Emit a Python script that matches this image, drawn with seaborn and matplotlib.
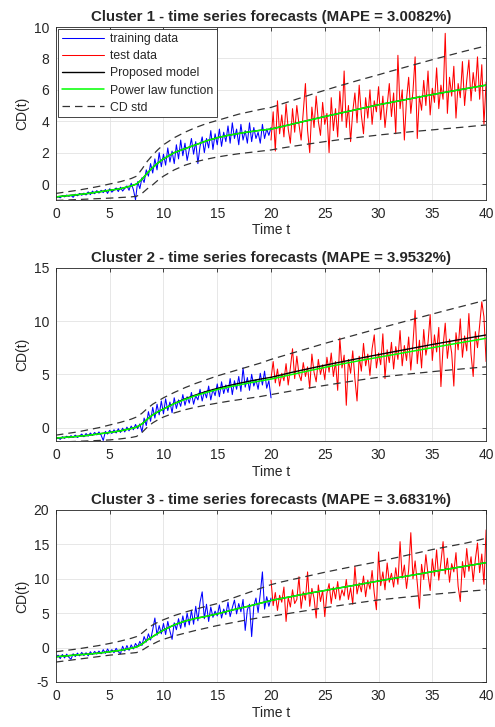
import numpy as np
import matplotlib
matplotlib.use('Agg')
import matplotlib.pyplot as plt
import seaborn as sns

# sample points for the smooth curves (model, power law, std band)
t_curve = [0, 1, 2, 3, 4, 5, 6, 7, 7.5, 8, 8.5, 9, 9.5, 10,
           11, 12, 13, 14, 15, 16, 17, 18, 19, 20,
           21, 22, 23, 24, 25, 26, 27, 28, 29, 30,
           31, 32, 33, 34, 35, 36, 37, 38, 39, 40]

# ---------- Cluster 1 ----------
c1_train = [-0.85, -0.8, -0.88, -0.75, -0.82, -0.7, -0.78, -0.72, -0.85, -0.65,
            -0.75, -0.6, -0.72, -0.58, -0.7, -0.5, -0.68, -0.45, -0.62, -0.42,
            -0.58, -0.4, -0.55, -0.35, -0.6, -0.3, -0.52, -0.38, -0.25, -0.48,
            -0.2, -0.45, -0.28, -0.12, -0.4, 0.05, -0.35, -1.0, 0.15, -0.3,
            0.4, 0.1, 0.9, 0.5, 1.3, 0.7, 1.6, 0.9, 2.0, 1.1,
            1.9, 1.2, 2.3, 1.4, 2.1, 1.3, 2.5, 1.6, 2.8, 1.8,
            2.6, 1.5, 2.2, 2.9, 1.9, 2.7, 1.3, 2.4, 3.0, 2.0,
            2.9, 2.3, 3.4, 2.2, 3.2, 2.5, 3.5, 2.4, 3.3, 2.7,
            3.7, 2.6, 3.9, 2.9, 3.5, 2.5, 3.8, 2.8, 3.4, 2.6,
            3.9, 2.7, 3.6, 2.9, 3.3, 2.6, 3.8, 2.9, 3.5, 3.1,
            3.6]
c1_test = [2.8, 4.6, 2.1, 5.3, 3.2, 4.4, 3.0, 5.1, 3.5, 2.6,
           4.8, 3.3, 5.0, 3.8, 2.8, 4.6, 6.4, 3.4, 2.0, 4.9,
           3.6, 5.6, 4.0, 3.1, 5.2, 3.8, 4.5, 2.0, 5.5, 3.4,
           4.8, 3.0, 5.9, 4.0, 7.2, 3.6, 5.0, 2.7, 4.6, 5.8,
           3.9, 6.3, 4.4, 3.2, 5.5, 4.2, 6.0, 3.8, 5.3, 4.6,
           6.2, 4.1, 5.6, 3.6, 5.0, 6.4, 4.3, 5.8, 3.2, 8.2,
           4.8, 6.0, 2.8, 5.4, 6.8, 4.5, 5.9, 8.1, 2.9, 5.6,
           4.7, 6.6, 5.0, 7.2, 4.4, 6.1, 5.2, 7.4, 4.8, 6.3,
           5.4, 9.6, 4.5, 6.8, 5.6, 7.5, 4.2, 6.4, 5.5, 7.8,
           5.0, 6.6, 7.9, 5.3, 7.1, 5.9, 8.1, 5.4, 7.6, 3.8,
           6.5]
c1_power = [-0.82, -0.75, -0.68, -0.6, -0.5, -0.4, -0.3, -0.12,
            0.0, 0.3, 0.7, 1.05, 1.35, 1.6,
            2.0, 2.25, 2.5, 2.75, 2.95, 3.1, 3.22, 3.33, 3.42, 3.5,
            3.66, 3.82, 3.98, 4.14, 4.3, 4.45, 4.6, 4.75, 4.9, 5.05,
            5.18, 5.31, 5.44, 5.57, 5.7, 5.82, 5.94, 6.06, 6.18, 6.3]
c1_model = c1_power
c1_upper = [-0.6, -0.5, -0.4, -0.28, -0.15, 0.0, 0.15, 0.35,
            0.5, 0.95, 1.45, 1.85, 2.2, 2.5,
            2.95, 3.3, 3.6, 3.85, 4.05, 4.25, 4.45, 4.6, 4.75, 4.88,
            5.1, 5.32, 5.54, 5.76, 5.97, 6.18, 6.38, 6.58, 6.77, 6.96,
            7.16, 7.35, 7.54, 7.73, 7.92, 8.1, 8.28, 8.46, 8.63, 8.8]
c1_lower = [-1.05, -1.02, -0.99, -0.96, -0.93, -0.9, -0.86, -0.82,
            -0.78, -0.6, -0.3, -0.05, 0.25, 0.5,
            0.9, 1.2, 1.42, 1.58, 1.72, 1.83, 1.93, 2.01, 2.09, 2.17,
            2.29, 2.4, 2.5, 2.6, 2.7, 2.79, 2.88, 2.96, 3.04, 3.12,
            3.19, 3.26, 3.33, 3.39, 3.45, 3.51, 3.57, 3.63, 3.7, 3.76]

# ---------- Cluster 2 ----------
c2_train = [-1.0, -0.95, -1.1, -0.85, -1.0, -0.8, -0.95, -0.75, -0.9, -0.7,
            -0.92, -0.78, -0.6, -0.85, -0.55, -0.8, -0.5, -0.72, -0.45, -0.68,
            -0.4, -0.7, -1.2, -0.35, -0.6, -0.25, -0.55, -0.2, -0.5, -0.1,
            -0.45, -0.05, -0.4, 0.05, -0.3, 0.15, -0.2, 0.3, -0.1, 0.35,
            -0.4, 0.9, 0.2, 1.5, 0.6, 1.9, 0.9, 2.2, 1.2, 2.5,
            1.3, 2.7, 1.6, 2.4, 1.4, 2.8, 1.8, 2.6, 2.0, 3.1,
            2.1, 2.9, 2.3, 3.3, 2.2, 3.0, 2.6, 3.6, 2.5, 3.4,
            2.8, 3.9, 2.6, 3.6, 3.0, 4.1, 2.9, 4.3, 3.2, 4.0,
            3.3, 4.6, 3.1, 4.4, 3.6, 4.8, 3.4, 5.6, 3.8, 4.7,
            3.5, 5.0, 3.9, 4.5, 3.6, 5.1, 4.0, 5.3, 3.7, 4.4,
            2.8]
c2_test = [4.6, 6.2, 4.2, 5.5, 3.9, 5.1, 4.4, 6.0, 4.0, 5.6,
           7.4, 4.6, 6.7, 5.0, 4.4, 6.1, 4.8, 5.7, 3.7, 6.9,
           5.2, 4.3, 6.4, 5.0, 5.9, 4.5, 6.6, 5.2, 7.0, 4.8,
           6.2, 3.5, 8.4, 5.6, 6.8, 2.1, 6.4, 5.1, 7.2, 4.6,
           2.5, 6.7, 5.3, 7.9, 5.8, 6.9, 4.9, 7.4, 8.7, 5.6,
           7.0, 5.9, 8.8, 4.6, 7.3, 6.1, 8.0, 5.5, 7.6, 6.4,
           9.1, 5.8, 7.7, 6.3, 8.5, 5.4, 7.9, 11.0, 6.0, 8.2,
           5.6, 9.2, 6.8, 8.0, 10.6, 6.3, 8.7, 7.1, 9.4, 3.85,
           7.6, 9.8, 6.5, 8.3, 7.0, 3.9, 8.9, 7.3, 10.2, 6.6,
           8.6, 7.2, 10.7, 6.9, 4.8, 9.0, 7.5, 9.6, 11.8, 10.4,
           6.2]
c2_power = [-0.97, -0.9, -0.82, -0.72, -0.58, -0.45, -0.3, -0.08,
            0.05, 0.35, 0.8, 1.2, 1.5, 1.75,
            2.25, 2.65, 3.0, 3.3, 3.57, 3.8, 4.0, 4.2, 4.38, 4.55,
            4.78, 5.0, 5.22, 5.44, 5.65, 5.85, 6.05, 6.24, 6.42, 6.6,
            6.78, 6.96, 7.14, 7.32, 7.5, 7.68, 7.86, 8.03, 8.2, 8.38]
c2_model = [-0.97, -0.9, -0.82, -0.72, -0.58, -0.45, -0.3, -0.08,
            0.05, 0.35, 0.8, 1.2, 1.5, 1.75,
            2.27, 2.7, 3.07, 3.4, 3.68, 3.93, 4.15, 4.36, 4.55, 4.72,
            4.96, 5.2, 5.42, 5.64, 5.85, 6.06, 6.26, 6.46, 6.66, 6.85,
            7.04, 7.23, 7.42, 7.61, 7.8, 7.98, 8.16, 8.34, 8.52, 8.69]
c2_upper = [-0.7, -0.55, -0.4, -0.2, 0.0, 0.25, 0.5, 0.8,
            1.0, 1.35, 1.8, 2.2, 2.5, 2.8,
            3.3, 3.75, 4.15, 4.5, 4.85, 5.15, 5.45, 5.75, 6.05, 6.4,
            6.7, 7.0, 7.3, 7.6, 7.9, 8.18, 8.46, 8.74, 9.02, 9.3,
            9.57, 9.84, 10.11, 10.38, 10.65, 10.92, 11.18, 11.44, 11.7, 11.97]
c2_lower = [-1.35, -1.32, -1.28, -1.24, -1.2, -1.15, -1.05, -0.92,
            -0.82, -0.45, 0.05, 0.45, 0.75, 1.0,
            1.38, 1.68, 1.92, 2.12, 2.3, 2.47, 2.62, 2.77, 2.92, 3.1,
            3.28, 3.46, 3.63, 3.8, 3.96, 4.12, 4.28, 4.43, 4.58, 4.72,
            4.83, 4.94, 5.05, 5.15, 5.25, 5.35, 5.44, 5.53, 5.62, 5.7]

# ---------- Cluster 3 ----------
c3_train = [-1.4, -1.1, -1.6, -1.0, -1.5, -0.95, -1.4, -1.7, -0.9, -1.3,
            -0.8, -1.2, -0.7, -1.15, -0.75, -1.2, -0.6, -1.0, -0.55, -0.95,
            -0.5, -0.9, -0.3, -0.85, -0.2, -0.7, -0.3, -0.75, -0.1, -0.6,
            -0.9, 0.2, -0.5, 0.3, -0.4, 0.4, -0.2, 0.6, 0.1, 0.9,
            0.3, 1.6, 0.8, 2.0, 1.1, 2.6, 4.3, 1.8, 3.2, 2.0,
            3.5, 1.9, 3.8, 2.4, 1.2, 3.6, 2.6, 4.2, 2.8, 4.6,
            3.0, 5.0, 3.3, 5.4, 3.4, 6.0, 3.9, 6.6, 8.1, 4.2,
            6.3, 3.8, 5.9, 4.4, 5.3, 4.6, 6.2, 4.3, 5.6, 4.8,
            6.6, 4.5, 5.8, 6.9, 4.9, 6.4, 5.2, 7.0, 2.5, 5.5,
            6.3, 1.6, 6.0, 7.2, 5.1, 7.8, 11.0, 5.6, 7.4, 6.0,
            7.2]
c3_test = [9.8, 6.1, 8.0, 5.4, 7.6, 6.6, 8.8, 3.8, 7.3, 5.9,
           8.4, 6.4, 7.0, 10.3, 5.7, 8.1, 6.9, 11.0, 6.0, 8.6,
           7.2, 4.3, 9.1, 6.7, 8.3, 4.5, 7.9, 9.3, 6.4, 8.8,
           7.1, 9.6, 6.9, 8.4, 7.5, 9.9, 7.0, 8.7, 6.3, 11.8,
           7.8, 9.4, 8.1, 10.4, 7.4, 9.8, 8.5, 11.2, 7.9, 5.5,
           13.9, 9.0, 11.0, 8.4, 12.3, 9.5, 10.8, 8.8, 11.6, 9.2,
           15.4, 10.1, 12.0, 8.6, 11.3, 16.7, 10.0, 12.6, 9.4, 5.7,
           12.1, 9.9, 13.5, 10.6, 8.3, 12.9, 10.4, 14.2, 9.8, 12.4,
           15.4, 10.7, 13.0, 9.5, 12.2, 11.0, 13.8, 8.9, 6.7, 12.5,
           10.2, 14.4, 11.1, 13.2, 9.6, 12.8, 15.2, 10.9, 13.6, 9.2,
           17.1]
c3_power = [-1.33, -1.2, -1.05, -0.95, -0.8, -0.6, -0.4, -0.1,
            0.1, 0.5, 1.1, 1.6, 2.1, 2.55,
            3.3, 3.85, 4.25, 4.55, 4.9, 5.3, 5.7, 6.05, 6.45, 6.85,
            7.15, 7.45, 7.75, 8.03, 8.3, 8.58, 8.85, 9.12, 9.4, 9.68,
            9.95, 10.22, 10.49, 10.76, 11.03, 11.3, 11.56, 11.82, 12.08, 12.35]
c3_model = c3_power
c3_upper = [-0.6, -0.4, -0.2, 0.05, 0.3, 0.6, 0.95, 1.35,
            1.6, 2.1, 2.75, 3.3, 3.7, 4.05,
            4.65, 5.15, 5.6, 6.0, 6.4, 6.95, 7.5, 8.05, 8.6, 9.15,
            9.55, 9.9, 10.25, 10.6, 10.95, 11.27, 11.59, 11.9, 12.2, 12.5,
            12.85, 13.2, 13.55, 13.9, 14.25, 14.55, 14.85, 15.15, 15.5, 15.9]
c3_lower = [-2.1, -1.9, -1.7, -1.5, -1.3, -1.1, -0.95, -0.8,
            -0.72, -0.4, 0.1, 0.5, 0.9, 1.2,
            1.7, 2.1, 2.5, 2.85, 3.2, 3.5, 3.8, 4.1, 4.35, 4.55,
            4.8, 5.05, 5.3, 5.55, 5.8, 6.03, 6.26, 6.49, 6.71, 6.93,
            7.09, 7.25, 7.41, 7.57, 7.73, 7.87, 8.01, 8.15, 8.28, 8.4]

titles = ['Cluster 1 - time series forecasts (MAPE = 3.0082%)',
          'Cluster 2 - time series forecasts (MAPE = 3.9532%)',
          'Cluster 3 - time series forecasts (MAPE = 3.6831%)']
ylims = [(-1, 10), (-1.25, 15), (-5, 20)]
yticks = [[0, 2, 4, 6, 8, 10], [0, 5, 10, 15], [-5, 0, 5, 10, 15, 20]]

panels = [
    (c1_train, c1_test, c1_power, c1_model, c1_upper, c1_lower),
    (c2_train, c2_test, c2_power, c2_model, c2_upper, c2_lower),
    (c3_train, c3_test, c3_power, c3_model, c3_upper, c3_lower),
]

sns.set_theme(style="whitegrid")
plt.rcParams['font.family'] = ['Liberation Sans', 'DejaVu Sans']
plt.rcParams['axes.unicode_minus'] = False
plt.rcParams['axes.edgecolor'] = '#262626'
plt.rcParams['axes.linewidth'] = 0.6
plt.rcParams['grid.color'] = '#e3e3e3'
plt.rcParams['grid.linewidth'] = 0.6
plt.rcParams['xtick.color'] = '#262626'
plt.rcParams['ytick.color'] = '#262626'

fig = plt.figure(figsize=(4.95, 7.27), dpi=100)
rects = [(0.113, 0.7253, 0.869, 0.2375),
         (0.113, 0.3934, 0.869, 0.2384),
         (0.113, 0.0619, 0.869, 0.2366)]

for i, (train, test, power, model, upper, lower) in enumerate(panels):
    ax = fig.add_axes(rects[i])
    t_train = np.linspace(0, 20, len(train))
    t_test = np.linspace(20, 40, len(test))

    sns.lineplot(x=t_train, y=train, ax=ax, color='#0000ff', linewidth=0.75)
    sns.lineplot(x=t_test, y=test, ax=ax, color='#ff0000', linewidth=0.75)
    sns.lineplot(x=t_curve, y=upper, ax=ax, color='#333333', linewidth=0.9)
    sns.lineplot(x=t_curve, y=lower, ax=ax, color='#333333', linewidth=0.9)
    sns.lineplot(x=t_curve, y=model, ax=ax, color='#000000', linewidth=1.0)
    sns.lineplot(x=t_curve, y=power, ax=ax, color='#00ff00', linewidth=1.1)
    lines = ax.get_lines()
    # dashed std band
    for ln in lines[2:4]:
        ln.set_dashes((6, 4))

    ax.set_xlim(0, 40)
    ax.set_ylim(*ylims[i])
    ax.set_xticks(range(0, 41, 5))
    ax.set_yticks(yticks[i])
    ax.tick_params(direction='in', top=True, right=True, length=3, width=0.6,
                   labelsize=10, pad=5)
    for s in ax.spines.values():
        s.set_visible(True)
        s.set_color('#262626')
        s.set_linewidth(0.6)
    ax.set_title(titles[i], fontsize=10.8, fontweight='bold', pad=4)
    ax.set_xlabel('Time t', fontsize=10, labelpad=2, color='#262626')
    ax.set_ylabel('CD(t)', fontsize=10, labelpad=3, color='#262626')

    if i == 0:
        handles = [lines[0], lines[1], lines[4], lines[5], lines[2]]
        labels = ['training data', 'test data', 'Proposed model',
                  'Power law function', 'CD std']
        leg = ax.legend(handles, labels, loc='upper left',
                        fontsize=8.8, frameon=True, fancybox=False,
                        edgecolor='#262626', framealpha=1, handlelength=3.4,
                        borderaxespad=0.2, labelspacing=0.42, borderpad=0.3,
                        handletextpad=0.5)
        leg.get_frame().set_linewidth(0.6)

fig.savefig('out.png', dpi=100)
